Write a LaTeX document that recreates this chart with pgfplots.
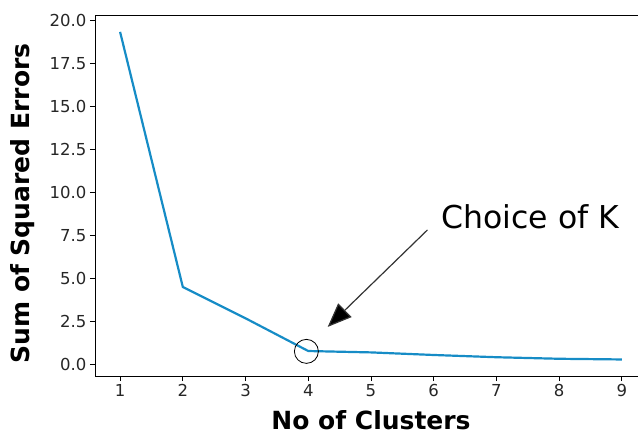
\documentclass[border=0pt]{standalone}
\usepackage{pgfplots}
\pgfplotsset{compat=1.18}
\usepackage{fontspec}
\setmainfont{DejaVu Sans}
\usetikzlibrary{arrows.meta}

\definecolor{sseblue}{RGB}{22,140,198}
\definecolor{txtgray}{RGB}{38,38,38}

\begin{document}
\begin{tikzpicture}
\begin{axis}[
    at={(0,0)}, anchor=south west,
    scale only axis,
    width=552pt, height=361pt,
    xmin=0.6, xmax=9.4,
    ymin=-0.65, ymax=20.31,
    xtick={1,2,...,9},
    ytick={0,2.5,...,20},
    tick align=outside,
    tick pos=left,
    major tick length=5pt,
    every tick/.style={black, line width=0.8pt},
    axis line style={black, line width=0.9pt},
    /pgf/number format/assume math mode=true,
    yticklabel style={/pgf/number format/.cd, fixed, fixed zerofill, precision=1},
    ticklabel style={font=\fontsize{16.5}{18}\selectfont, text=txtgray},
    xlabel={No of Clusters},
    ylabel={Sum of Squared Errors},
    label style={font=\fontsize{25}{28}\selectfont\bfseries, text=black},
    xlabel style={at={(axis description cs:0.5,-0.122)}, anchor=center},
    ylabel style={at={(axis description cs:-0.132,0.478)}, anchor=center, rotate=0},
    clip=false,
]
\addplot[color=sseblue, line width=2.2pt] coordinates {
(1, 19.33)
(2, 4.52)
(3, 2.70)
(4, 0.80)
(5, 0.72)
(6, 0.57)
(7, 0.44)
(8, 0.35)
(9, 0.31)
};
\draw[black, line width=0.8pt] (axis cs:3.97,0.78) circle[radius=12pt];
\draw[black!80, line width=1.2pt, -{Triangle[length=24pt,width=19pt,fill=black]}]
    (axis cs:5.90,7.83) -- (axis cs:4.31,2.2);
\node[font=\fontsize{31.5}{34}\selectfont, text=black] at (axis cs:7.54,8.58) {Choice of K};
\end{axis}
\pgfresetboundingbox
\useasboundingbox (-95pt,-58pt) rectangle (543pt,376pt);
\end{tikzpicture}
\end{document}
